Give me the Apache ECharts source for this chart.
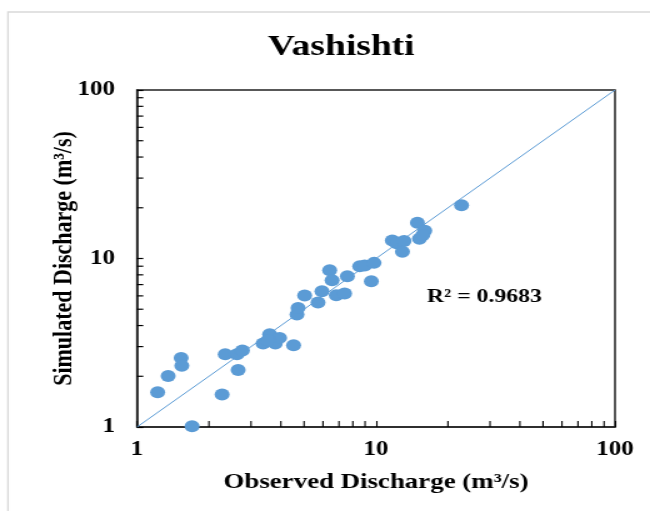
<!DOCTYPE html>
<html>
<head>
<meta charset="utf-8">
<script src="https://cdn.jsdelivr.net/npm/echarts@6/dist/echarts.min.js"></script>
<style>
  html, body { margin: 0; padding: 0; background: #fff; overflow: hidden; }
  /* the figure is laid out narrow and widened horizontally, like the published plot */
  #chart { width: 520px; height: 511px; transform: scaleX(1.25); transform-origin: 0 0; }
</style>
</head>
<body>
<div id="chart"></div>
<script>
// Observed vs simulated discharge (m3/s), Vashishti basin
const observed = [1.22, 1.35, 1.53, 1.54, 1.70, 2.27, 2.34, 2.65, 2.62, 2.76,
  3.37, 3.59, 3.79, 3.95, 3.53, 4.52, 4.67, 4.72, 5.03, 5.72,
  5.94, 6.40, 6.55, 6.82, 7.39, 7.59, 8.55, 8.97, 9.81, 9.56,
  11.7, 12.2, 13.1, 12.9, 14.9, 15.2, 16.0, 15.7, 22.8];
const simulated = [1.61, 2.01, 2.57, 2.31, 1.01, 1.56, 2.70, 2.18, 2.70, 2.84,
  3.13, 3.55, 3.13, 3.38, 3.27, 3.06, 4.65, 5.09, 6.03, 5.48,
  6.40, 8.53, 7.44, 6.05, 6.20, 7.85, 9.00, 9.09, 9.42, 7.33,
  12.8, 12.3, 12.7, 10.96, 16.3, 13.1, 14.6, 13.8, 20.7];
const oneToOne = [1, 100];
const minorTicks = [2, 3, 4, 5, 6, 7, 8, 9, 20, 30, 40, 50, 60, 70, 80, 90];
const titleText = 'Vashishti';
const xName = 'Observed Discharge (m³/s)';
const yName = 'Simulated Discharge (m³/s)';
const r2Text = 'R² = 0.9683';

const SERIF = '"Liberation Serif", "Times New Roman", serif';
const blue = '#5b9bd5';

const chart = echarts.init(document.getElementById('chart'), null, { renderer: 'canvas' });

// short inward ticks at 2..9 and 20..90 on the log axes
function minorTickItem(axisDim) {
  return function (params, api) {
    const v = api.value(0);
    if (axisDim === 'x') {
      const p = api.coord([v, 1]);
      return { type: 'line', shape: { x1: p[0], y1: p[1], x2: p[0], y2: p[1] - 6 },
        style: { stroke: '#000', lineWidth: 1.1 } };
    }
    const p = api.coord([1, v]);
    return { type: 'line', shape: { x1: p[0], y1: p[1], x2: p[0] + 5, y2: p[1] },
      style: { stroke: '#000', lineWidth: 1.2 } };
  };
}

chart.setOption({
  backgroundColor: '#fff',
  animation: false,
  title: {
    text: titleText,
    left: 268, top: 27, textAlign: 'center',
    textStyle: { fontFamily: SERIF, fontWeight: 'bold', fontSize: 30, color: '#000' }
  },
  graphic: [
    { type: 'rect', shape: { x: 6.4, y: 12, width: 600, height: 600 },
      style: { fill: 'none', stroke: '#d9d9d9', lineWidth: 1.3 }, z: -1 },
    { type: 'text', left: 341.5, top: 288,
      style: { text: r2Text, font: 'bold 19px ' + SERIF, fill: '#000' } }
  ],
  grid: { left: 109.6, right: 28, top: 90, bottom: 84, show: true,
    borderColor: '#222', borderWidth: 1.5, backgroundColor: 'transparent' },
  xAxis: {
    type: 'log', logBase: 10, min: 1, max: 100,
    name: xName, nameLocation: 'middle', nameGap: 44, nameMoveOverlap: false,
    nameTextStyle: { fontFamily: SERIF, fontWeight: 'bold', fontSize: 21.5, color: '#000' },
    axisLine: { lineStyle: { color: '#222', width: 1.5 } },
    axisTick: { inside: true, length: 6, lineStyle: { color: '#000', width: 1.1 } },
    axisLabel: { fontFamily: SERIF, fontWeight: 'bold', fontSize: 20, color: '#000', margin: 13 },
    splitLine: { show: false }
  },
  yAxis: {
    type: 'log', logBase: 10, min: 1, max: 100,
    name: yName, nameLocation: 'middle', nameGap: 47, nameRotate: 90, nameMoveOverlap: false,
    nameTextStyle: { fontFamily: SERIF, fontWeight: 'bold', fontSize: 22, color: '#000' },
    axisLine: { lineStyle: { color: '#222', width: 1.5 } },
    axisTick: { inside: true, length: 5, lineStyle: { color: '#000', width: 1.2 } },
    axisLabel: { fontFamily: SERIF, fontWeight: 'bold', fontSize: 20, color: '#000', margin: 17.5 },
    splitLine: { show: false }
  },
  series: [
    {
      type: 'line', data: oneToOne.map(v => [v, v]), showSymbol: false, symbol: 'none',
      lineStyle: { color: blue, width: 1 }, z: 1, silent: true
    },
    {
      type: 'scatter', data: observed.map((o, i) => [o, simulated[i]]),
      symbol: 'circle', symbolSize: 12,
      itemStyle: { color: blue, opacity: 1 }, z: 3
    },
    {
      type: 'custom', data: minorTicks.map(v => [v]), clip: false, silent: true,
      renderItem: minorTickItem('x'), z: 5
    },
    {
      type: 'custom', data: minorTicks.map(v => [v]), clip: false, silent: true,
      renderItem: minorTickItem('y'), z: 5
    }
  ]
});
</script>
</body>
</html>
